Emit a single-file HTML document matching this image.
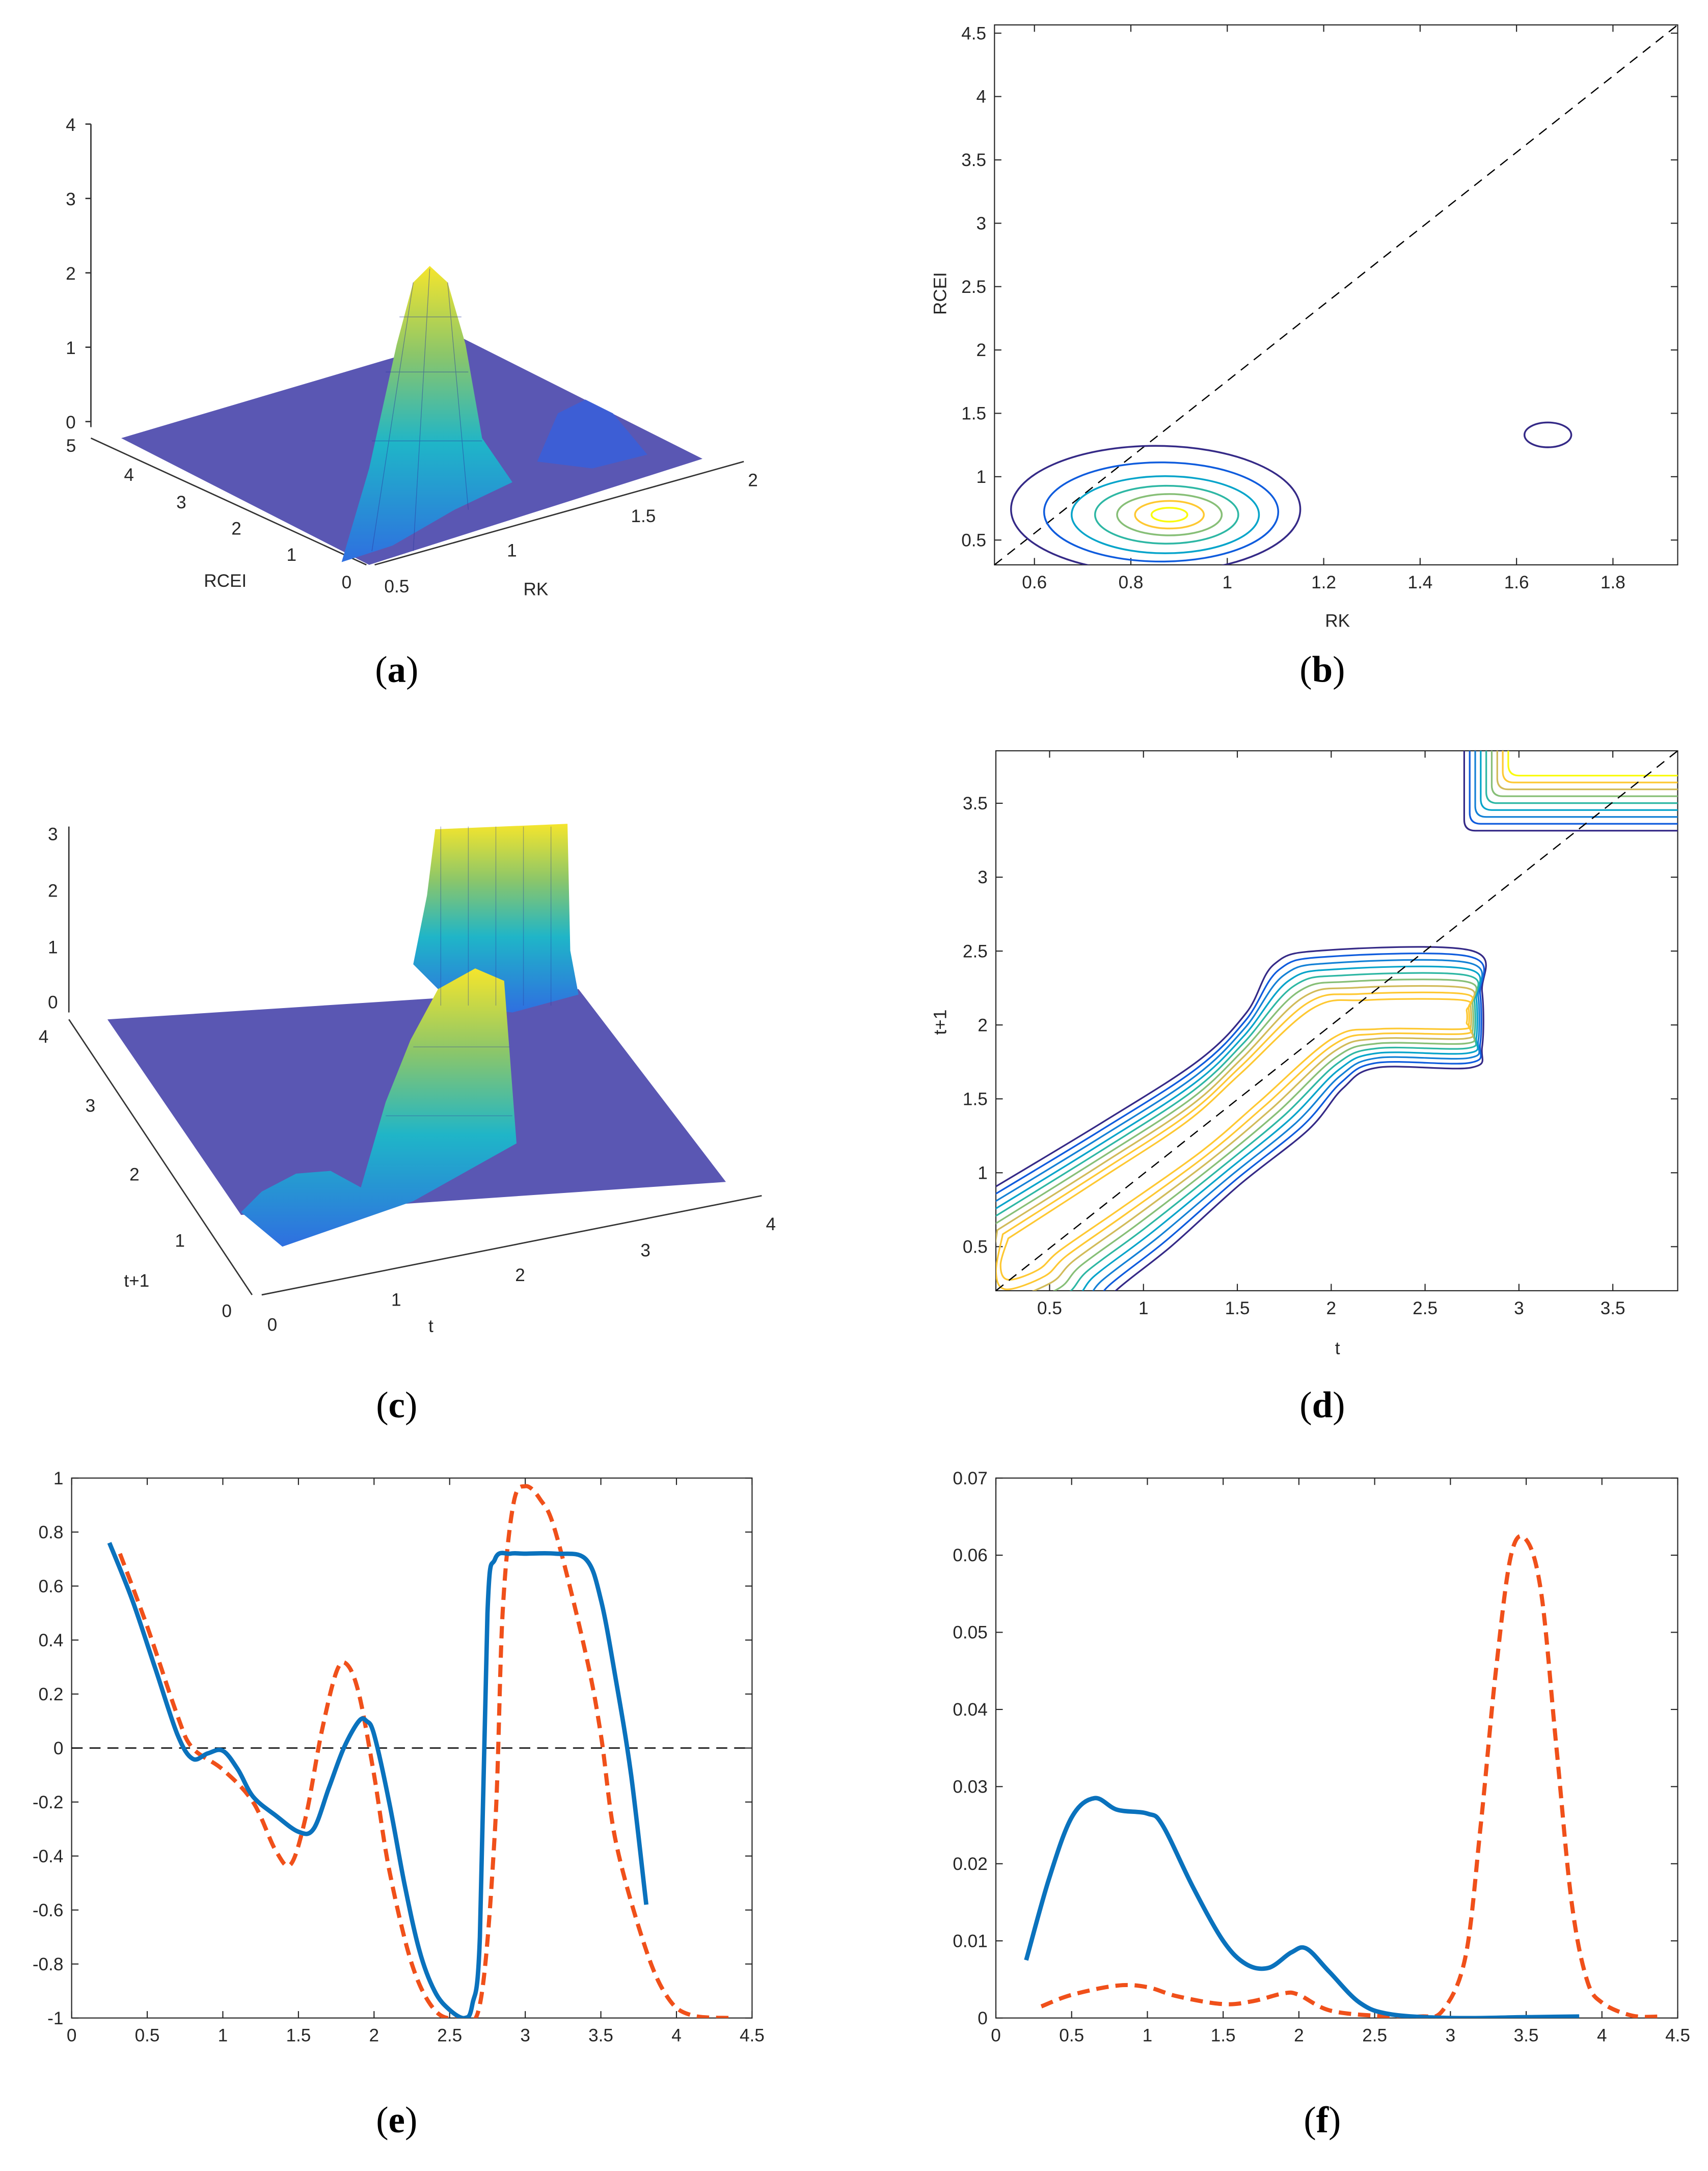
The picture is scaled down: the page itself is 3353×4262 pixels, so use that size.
<!DOCTYPE html>
<html><head><meta charset="utf-8"><style>
html,body{margin:0;padding:0;background:#fff}
svg{display:block}
text{font-family:"Liberation Sans",sans-serif;font-size:13px;fill:#262626}
.cap{font-family:"Liberation Serif",serif;font-size:27px;fill:#000}
</style></head><body>
<svg id="fig" width="3353" height="4262" viewBox="0 0 1240 1576" xmlns="http://www.w3.org/2000/svg">
<defs>
<linearGradient id="gA" x1="0" y1="1" x2="0" y2="0"><stop offset="0" stop-color="#2f6fe0"/><stop offset="0.4" stop-color="#1fb5c8"/><stop offset="0.7" stop-color="#8bc66a"/><stop offset="1" stop-color="#f5e52c"/></linearGradient>
<clipPath id="cb"><rect x="722" y="18" width="496" height="392"/></clipPath>
<clipPath id="cd"><rect x="723" y="545" width="495" height="392"/></clipPath>
<clipPath id="ce"><rect x="52" y="1073" width="494" height="392"/></clipPath>
<clipPath id="cf"><rect x="723" y="1073" width="495" height="392"/></clipPath>
</defs>
<g id="root"></g>
<g>
<line x1="66" y1="90" x2="66" y2="310" stroke="#333"/>
<g stroke="#333"><line x1="62" y1="90" x2="66" y2="90"/><line x1="62" y1="144" x2="66" y2="144"/><line x1="62" y1="198" x2="66" y2="198"/><line x1="62" y1="252" x2="66" y2="252"/><line x1="62" y1="306" x2="66" y2="306"/></g>
<text x="55" y="95" text-anchor="end">4</text><text x="55" y="149" text-anchor="end">3</text><text x="55" y="203" text-anchor="end">2</text><text x="55" y="257" text-anchor="end">1</text><text x="55" y="311" text-anchor="end">0</text>
<line x1="66" y1="318" x2="266" y2="410" stroke="#333"/>
<line x1="272" y1="410" x2="540" y2="335" stroke="#333"/>
<text x="48" y="328">5</text><text x="90" y="349">4</text><text x="128" y="369">3</text><text x="168" y="388">2</text><text x="208" y="407">1</text><text x="248" y="427">0</text>
<text x="148" y="426">RCEI</text>
<text x="279" y="430">0.5</text><text x="368" y="404">1</text><text x="458" y="379">1.5</text><text x="543" y="353">2</text>
<text x="380" y="432">RK</text>
<polygon points="88,318 335,245 510,333 268,410" fill="#3d3aa6" opacity="0.85"/>
<polygon points="390,335 405,300 425,290 445,300 470,330 430,340" fill="#3a5fd8" opacity="0.9"/>
<polygon points="248,408 268,340 288,250 300,205 312,193 325,205 338,250 350,318 372,350 330,370 285,396" fill="url(#gA)"/>
<g stroke="#2a3aa0" stroke-width="0.5" opacity="0.5"><line x1="270" y1="320" x2="350" y2="320"/><line x1="280" y1="270" x2="340" y2="270"/><line x1="290" y1="230" x2="335" y2="230"/><line x1="312" y1="195" x2="300" y2="400"/><line x1="300" y1="205" x2="270" y2="400"/><line x1="325" y1="205" x2="340" y2="370"/></g>
</g>
<g>
<line x1="50" y1="600" x2="50" y2="735" stroke="#333"/>
<text x="42" y="610" text-anchor="end">3</text><text x="42" y="651" text-anchor="end">2</text><text x="42" y="692" text-anchor="end">1</text><text x="42" y="732" text-anchor="end">0</text>
<line x1="50" y1="740" x2="183" y2="940" stroke="#333"/>
<line x1="190" y1="940" x2="553" y2="868" stroke="#333"/>
<text x="28" y="757">4</text><text x="62" y="807">3</text><text x="94" y="857">2</text><text x="127" y="905">1</text><text x="161" y="956">0</text>
<text x="90" y="934">t+1</text>
<text x="194" y="966">0</text><text x="284" y="948">1</text><text x="374" y="930">2</text><text x="465" y="912">3</text><text x="556" y="893">4</text>
<text x="311" y="967">t</text>
<polygon points="78,740 420,718 527,858 175,882" fill="#3d3aa6" opacity="0.85"/>
<polygon points="300,700 310,650 316,602 412,598 414,690 420,722 372,735 330,730" fill="url(#gA)"/>
<polygon points="175,880 190,865 215,852 240,850 262,862 280,800 298,755 318,718 345,703 366,712 375,830 300,872 205,905" fill="url(#gA)"/>
<g stroke="#2a3aa0" stroke-width="0.5" opacity="0.4"><line x1="320" y1="600" x2="320" y2="730"/><line x1="340" y1="600" x2="340" y2="730"/><line x1="360" y1="600" x2="360" y2="730"/><line x1="380" y1="600" x2="380" y2="730"/><line x1="400" y1="600" x2="400" y2="730"/><line x1="300" y1="760" x2="370" y2="760"/><line x1="280" y1="810" x2="372" y2="810"/></g>
</g>
<g>
<text class="cap" x="288" y="495" text-anchor="middle">(<tspan font-weight="bold">a</tspan>)</text>
<text class="cap" x="960" y="495" text-anchor="middle">(<tspan font-weight="bold">b</tspan>)</text>
<text class="cap" x="288" y="1029" text-anchor="middle">(<tspan font-weight="bold">c</tspan>)</text>
<text class="cap" x="960" y="1029" text-anchor="middle">(<tspan font-weight="bold">d</tspan>)</text>
<text class="cap" x="288" y="1548" text-anchor="middle">(<tspan font-weight="bold">e</tspan>)</text>
<text class="cap" x="960" y="1548" text-anchor="middle">(<tspan font-weight="bold">f</tspan>)</text>
</g>
</svg>
<script>
const NS="http://www.w3.org/2000/svg";
const root=document.getElementById('root');
const eBlueX=[0.25,0.4,0.55,0.7,0.8,0.9,1.0,1.1,1.2,1.35,1.5,1.6,1.7,1.8,1.9,1.95,2.0,2.1,2.2,2.3,2.4,2.5,2.6,2.65,2.7,2.75,2.8,2.9,3.0,3.2,3.4,3.5,3.6,3.7,3.8];
const eBlueY=[0.76,0.55,0.3,0.05,-0.04,-0.02,-0.01,-0.08,-0.18,-0.25,-0.31,-0.3,-0.15,0.0,0.1,0.1,0.05,-0.2,-0.5,-0.75,-0.9,-0.97,-1.0,-0.95,-0.7,0.5,0.7,0.72,0.72,0.72,0.7,0.55,0.25,-0.1,-0.58];
const eOrX=[0.32,0.5,0.7,0.8,1.0,1.2,1.35,1.45,1.55,1.65,1.75,1.82,1.9,2.0,2.1,2.25,2.4,2.55,2.7,2.8,2.85,2.92,3.0,3.1,3.2,3.4,3.5,3.6,3.8,3.95,4.1,4.35];
const eOrY=[0.72,0.45,0.12,0.0,-0.08,-0.2,-0.38,-0.43,-0.25,0.05,0.28,0.31,0.2,-0.1,-0.45,-0.8,-0.97,-1.0,-0.95,-0.3,0.5,0.9,0.97,0.92,0.8,0.35,0.05,-0.35,-0.75,-0.93,-0.99,-1.0];
const fBlueX=[0.2,0.35,0.5,0.65,0.8,1.0,1.1,1.3,1.5,1.65,1.8,1.95,2.05,2.2,2.4,2.6,3.0,3.5,3.85];
const fBlueY=[0.0075,0.018,0.026,0.0285,0.027,0.0265,0.025,0.017,0.01,0.007,0.0065,0.0085,0.009,0.006,0.002,0.0005,0.0,0.0001,0.0002];
const fOrX=[0.3,0.5,0.8,1.0,1.2,1.5,1.7,1.9,2.0,2.2,2.5,2.8,2.95,3.1,3.2,3.3,3.4,3.5,3.6,3.7,3.8,3.9,4.0,4.2,4.4];
const fOrY=[0.0015,0.003,0.0042,0.004,0.0028,0.0018,0.0022,0.0032,0.003,0.001,0.0003,0.0002,0.001,0.008,0.025,0.045,0.06,0.062,0.055,0.035,0.015,0.005,0.002,0.0003,0.0002];
const eXTicks=[0,0.5,1,1.5,2,2.5,3,3.5,4,4.5];
const eYTicks=[-1,-0.8,-0.6,-0.4,-0.2,0,0.2,0.4,0.6,0.8,1];
const fYTicks=[0,0.01,0.02,0.03,0.04,0.05,0.06,0.07];
const bXTicks=[0.6,0.8,1,1.2,1.4,1.6,1.8];
const bYTicks=[0.5,1,1.5,2,2.5,3,3.5,4,4.5];
const dTicks=[0.5,1,1.5,2,2.5,3,3.5];
const parula=['#352a87','#0f5cdd','#1481d6','#06a4ca','#2eb7a4','#87bf77','#d1bb59','#fec832','#f9fb0e'];

function mk(tag,attrs,parent){const e=document.createElementNS(NS,tag);for(const k in attrs)e.setAttribute(k,attrs[k]);(parent||root).appendChild(e);return e;}
function axisBox(p,name,xs,ys,xt,yt,fmtX,fmtY){
  const g=mk('g',{});
  
  
  mk('rect',{x:p.x0,y:p.y0,width:p.x1-p.x0,height:p.y1-p.y0,fill:'none',stroke:'#262626','stroke-width':0.8},g);
  xt.forEach(v=>{const X=xs(v);
    mk('line',{x1:X,y1:p.y1,x2:X,y2:p.y1-5,stroke:'#262626','stroke-width':0.8},g);
    mk('line',{x1:X,y1:p.y0,x2:X,y2:p.y0+5,stroke:'#262626','stroke-width':0.8},g);
    const t=mk('text',{x:X,y:p.y1+17,'text-anchor':'middle'},g);t.textContent=fmtX(v);});
  yt.forEach(v=>{const Y=ys(v);
    mk('line',{x1:p.x0,y1:Y,x2:p.x0+5,y2:Y,stroke:'#262626','stroke-width':0.8},g);
    mk('line',{x1:p.x1,y1:Y,x2:p.x1-5,y2:Y,stroke:'#262626','stroke-width':0.8},g);
    const t=mk('text',{x:p.x0-6,y:Y+4.5,'text-anchor':'end'},g);t.textContent=fmtY(v);});
  return g;
}
const fmt=v=>String(v);
function smoothPath(P){
  let d='M'+P[0][0].toFixed(1)+','+P[0][1].toFixed(1);
  for(let i=0;i<P.length-1;i++){
    const p0=P[Math.max(0,i-1)],p1=P[i],p2=P[i+1],p3=P[Math.min(P.length-1,i+2)];
    const c1x=p1[0]+(p2[0]-p0[0])/6,c1y=p1[1]+(p2[1]-p0[1])/6;
    const c2x=p2[0]-(p3[0]-p1[0])/6,c2y=p2[1]-(p3[1]-p1[1])/6;
    d+=` C${c1x.toFixed(1)},${c1y.toFixed(1)} ${c2x.toFixed(1)},${c2y.toFixed(1)} ${p2[0].toFixed(1)},${p2[1].toFixed(1)}`;
  }
  return d;
}
function line(xa,ya,xs,ys,attrs,name,clip){
  const P=xa.map((x,i)=>[xs(x),ys(ya[i])]);
  const e=mk('path',Object.assign({d:smoothPath(P),fill:'none','clip-path':clip,'stroke-linejoin':'round'},attrs));
  
  
}
const pe={x0:52,x1:546,y0:1073,y1:1465};
const exs=v=>pe.x0+v/4.5*(pe.x1-pe.x0), eys=v=>pe.y1-(v+1)/2*(pe.y1-pe.y0);
axisBox(pe,'axes-e',exs,eys,eXTicks,eYTicks,fmt,fmt);
mk('line',{x1:pe.x0,y1:eys(0),x2:pe.x1,y2:eys(0),stroke:'#000','stroke-dasharray':'8,5','stroke-width':0.9});
line(eOrX,eOrY,exs,eys,{stroke:'#f0501a','stroke-width':3,'stroke-dasharray':'9,5'},'series-orange-e','url(#ce)');
line(eBlueX,eBlueY,exs,eys,{stroke:'#0a72bd','stroke-width':3.2},'series-blue-e','url(#ce)');
const pf={x0:723,x1:1218,y0:1073,y1:1465};
const fxs=v=>pf.x0+v/4.5*(pf.x1-pf.x0), fys=v=>pf.y1-v/0.07*(pf.y1-pf.y0);
axisBox(pf,'axes-f',fxs,fys,eXTicks,fYTicks,fmt,v=>v===0?'0':v.toFixed(2));
line(fOrX,fOrY,fxs,fys,{stroke:'#f0501a','stroke-width':3,'stroke-dasharray':'9,5'},'series-orange-f','url(#cf)');
line(fBlueX,fBlueY,fxs,fys,{stroke:'#0a72bd','stroke-width':3.2},'series-blue-f','url(#cf)');
const pb={x0:722,x1:1218,y0:18,y1:410};
const bxs=v=>751+(v-0.6)*350, bys=v=>392-(v-0.5)*92;
axisBox(pb,'axes-b',bxs,bys,bXTicks,bYTicks,fmt,fmt);
let t=mk('text',{x:971,y:455,'text-anchor':'middle','font-size':15});t.textContent='RK';
t=mk('text',{x:0,y:0,'text-anchor':'middle','font-size':15,transform:'translate(687,213) rotate(-90)'});t.textContent='RCEI';
mk('line',{x1:bxs(0.517),y1:bys(0.304),x2:pb.x1,y2:pb.y0,stroke:'#000','stroke-dasharray':'7,5','stroke-width':0.9});
const bCon=mk('g',{'clip-path':'url(#cb)'});


const cx=bxs(0.88),cy=bys(0.7);
const rings=[[105,46,0,-10,-4],[85,36,1,-6,-2],[68,28,3,-3,0],[52,21,4,-2,0],[38,15,5,0,0],[25,10,7,0,0],[13,5,8,0,0]];
rings.forEach(r=>mk('ellipse',{cx:cx+r[3],cy:cy+r[4],rx:r[0],ry:r[1],fill:'none',stroke:parula[r[2]],'stroke-width':1.3},bCon));
mk('ellipse',{cx:bxs(1.665),cy:bys(1.33),rx:17,ry:9,fill:'none',stroke:parula[0],'stroke-width':1.3},bCon);
const pd={x0:723,x1:1218,y0:545,y1:937};
const dxs=v=>762+(v-0.5)*136.3, dys=v=>905-(v-0.5)*107.3;
axisBox(pd,'axes-d',dxs,dys,dTicks,dTicks,fmt,fmt);
t=mk('text',{x:971,y:983,'text-anchor':'middle','font-size':15});t.textContent='t';
t=mk('text',{x:0,y:0,'text-anchor':'middle','font-size':15,transform:'translate(687,742) rotate(-90)'});t.textContent='t+1';
const dCon=mk('g',{'clip-path':'url(#cd)'});


const outer=[[700,875],[800,815],[870,770],[905,735],[925,700],[960,690],[1068,690],[1076,720],[1076,760],[1068,775],[1000,775],[975,790],[950,820],[900,860],[850,905],[810,937],[790,960],[720,985],[700,960]];
const inner=[[740,905],[800,865],[860,825],[900,790],[960,740],[1000,735],[1060,735],[1062,737],[1062,738],[1060,740],[1000,740],[965,745],[905,795],[865,830],[805,870],[760,900],[745,912],[735,915],[733,908]];
const dl=[0,0.1,0.2,0.3,0.4,0.5,0.6,0.7,0.8];
dl.forEach((f,i)=>{
  const P=outer.map((p,j)=>[p[0]+(inner[j][0]-p[0])*f,p[1]+(inner[j][1]-p[1])*f]);
  P.push(P[0]);
  mk('path',{d:smoothPath(P)+'Z',fill:'none',stroke:parula[Math.min(i,7)],'stroke-width':1.2,'stroke-linejoin':'round'},dCon);
});
for(let i=0;i<9;i++){
  const y=603-i*5, x=1063+i*4;
  mk('path',{d:`M1220,${y} L${x+8},${y} Q${x},${y} ${x},${y-8} L${x},540`,fill:'none',stroke:parula[i],'stroke-width':1.2},dCon);
}
mk('line',{x1:pd.x0,y1:pd.y1,x2:pd.x1,y2:pd.y0,stroke:'#000','stroke-dasharray':'7,5','stroke-width':0.9});
</script>
</body></html>
